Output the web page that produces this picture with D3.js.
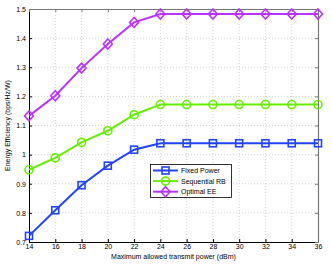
<!DOCTYPE html>
<html><head><meta charset="utf-8">
<script src="https://cdn.jsdelivr.net/npm/d3@7"></script>
<style>body{margin:0;background:#fff}svg{display:block}text{font-family:"Liberation Sans",Arial,sans-serif}</style>
</head><body>
<script>
const powers = [14,16,18,20,22,24,26,28,30,32,34,36];
const fixedPower = [0.721,0.809,0.895,0.962,1.017,1.039,1.039,1.039,1.039,1.039,1.039,1.039];
const sequentialRB = [0.948,0.989,1.042,1.082,1.137,1.172,1.172,1.172,1.172,1.172,1.172,1.172];
const optimalEE = [1.133,1.202,1.297,1.380,1.454,1.483,1.483,1.483,1.483,1.483,1.483,1.483];
const xTicks = [14,16,18,20,22,24,26,28,30,32,34,36];
const yTicks = [0.7,0.8,0.9,1,1.1,1.2,1.3,1.4,1.5];
const seriesNames = ["Fixed Power","Sequential RB","Optimal EE"];
const colors = ["#2244ff","#66ee00","#bb33ff"];
const markers = ["square","circle","diamond"];

const W=332,H=267;
const L=29,R=318,T=9,B=242;
const FS=7;
const svg=d3.select("body").append("svg").attr("width",W).attr("height",H);
const x=d3.scaleLinear().domain([14,36]).range([L,R]);
const y=d3.scaleLinear().domain([0.7,1.5]).range([B,T]);

// grid
const g=svg.append("g");
g.selectAll(".vx").data(xTicks.slice(1,-1)).enter().append("line")
 .attr("x1",d=>x(d)).attr("x2",d=>x(d)).attr("y1",T).attr("y2",B)
 .attr("stroke","#c8c8c8").attr("stroke-width",0.8).attr("stroke-dasharray","1,2");
g.selectAll(".hy").data(yTicks.slice(1,-1)).enter().append("line")
 .attr("y1",d=>y(d)).attr("y2",d=>y(d)).attr("x1",L).attr("x2",R)
 .attr("stroke","#c8c8c8").attr("stroke-width",0.8).attr("stroke-dasharray","1,2");

// axes
const fmtY=d=>d===1?"1":d3.format(".1f")(d);
const ax=svg.append("g").attr("transform",`translate(0,${B})`)
 .call(d3.axisBottom(x).tickValues(xTicks).tickSize(-3).tickPadding(2.5));
const ay=svg.append("g").attr("transform",`translate(${L},0)`)
 .call(d3.axisLeft(y).tickValues(yTicks).tickFormat(fmtY).tickSize(-3).tickPadding(3));
const axT=svg.append("g").attr("transform",`translate(0,${T})`)
 .call(d3.axisTop(x).tickValues(xTicks).tickSize(-3).tickFormat(""));
const ayR=svg.append("g").attr("transform",`translate(${R},0)`)
 .call(d3.axisRight(y).tickValues(yTicks).tickSize(-3).tickFormat(""));
[ax,ay].forEach(a=>{a.select(".domain").attr("stroke","#000").attr("stroke-width",1);
 a.selectAll(".tick line").attr("stroke","#000");
 a.selectAll("text").attr("font-size",FS).attr("fill","#000").attr("font-family","Liberation Sans, Arial, sans-serif");});
[axT,ayR].forEach(a=>{a.select(".domain").attr("stroke","#777").attr("stroke-width",1.2);
 a.selectAll(".tick line").attr("stroke","#777");});

// labels
svg.append("text").attr("x",(L+R)/2).attr("y",259).attr("text-anchor","middle")
 .attr("font-size",FS).text("Maximum allowed transmit power (dBm)");
svg.append("text").attr("transform",`translate(9.5,${(T+B)/2}) rotate(-90)`).attr("text-anchor","middle")
 .attr("font-size",FS).text("Energy Efficiency (bps/Hz/W)");

function drawMarker(sel,type,cx,cy,color){
 if(type==="square") sel.append("rect").attr("x",cx-3.5).attr("y",cy-3.5).attr("width",7).attr("height",7)
   .attr("fill","none").attr("stroke",color).attr("stroke-width",1.6);
 else if(type==="circle") sel.append("circle").attr("cx",cx).attr("cy",cy).attr("r",4)
   .attr("fill","none").attr("stroke",color).attr("stroke-width",1.6);
 else sel.append("path").attr("d",`M${cx},${cy-5}L${cx+4.5},${cy}L${cx},${cy+5}L${cx-4.5},${cy}Z`)
   .attr("fill","none").attr("stroke",color).attr("stroke-width",1.6);
}

const data=[fixedPower,sequentialRB,optimalEE];
const line=d3.line().x((d,i)=>x(powers[i])).y(d=>y(d));
data.forEach((vals,k)=>{
 const sg=svg.append("g");
 sg.append("path").datum(vals).attr("d",line).attr("fill","none").attr("stroke",colors[k]).attr("stroke-width",2);
 vals.forEach((v,i)=>drawMarker(sg,markers[k],x(powers[i]),y(v),colors[k]));
});

// legend
const lg=svg.append("g");
lg.append("rect").attr("x",150.5).attr("y",164.5).attr("width",81).attr("height",33)
 .attr("fill","#fff").attr("stroke","#000").attr("stroke-width",0.8);
seriesNames.forEach((n,k)=>{
 const yy=170.5+k*10.6;
 lg.append("line").attr("x1",153).attr("x2",178).attr("y1",yy).attr("y2",yy).attr("stroke",colors[k]).attr("stroke-width",2);
 drawMarker(lg,markers[k],165.5,yy,colors[k]);
 lg.append("text").attr("x",181).attr("y",yy+2.5).attr("font-size",FS).text(n);
});
</script>
</body></html>
